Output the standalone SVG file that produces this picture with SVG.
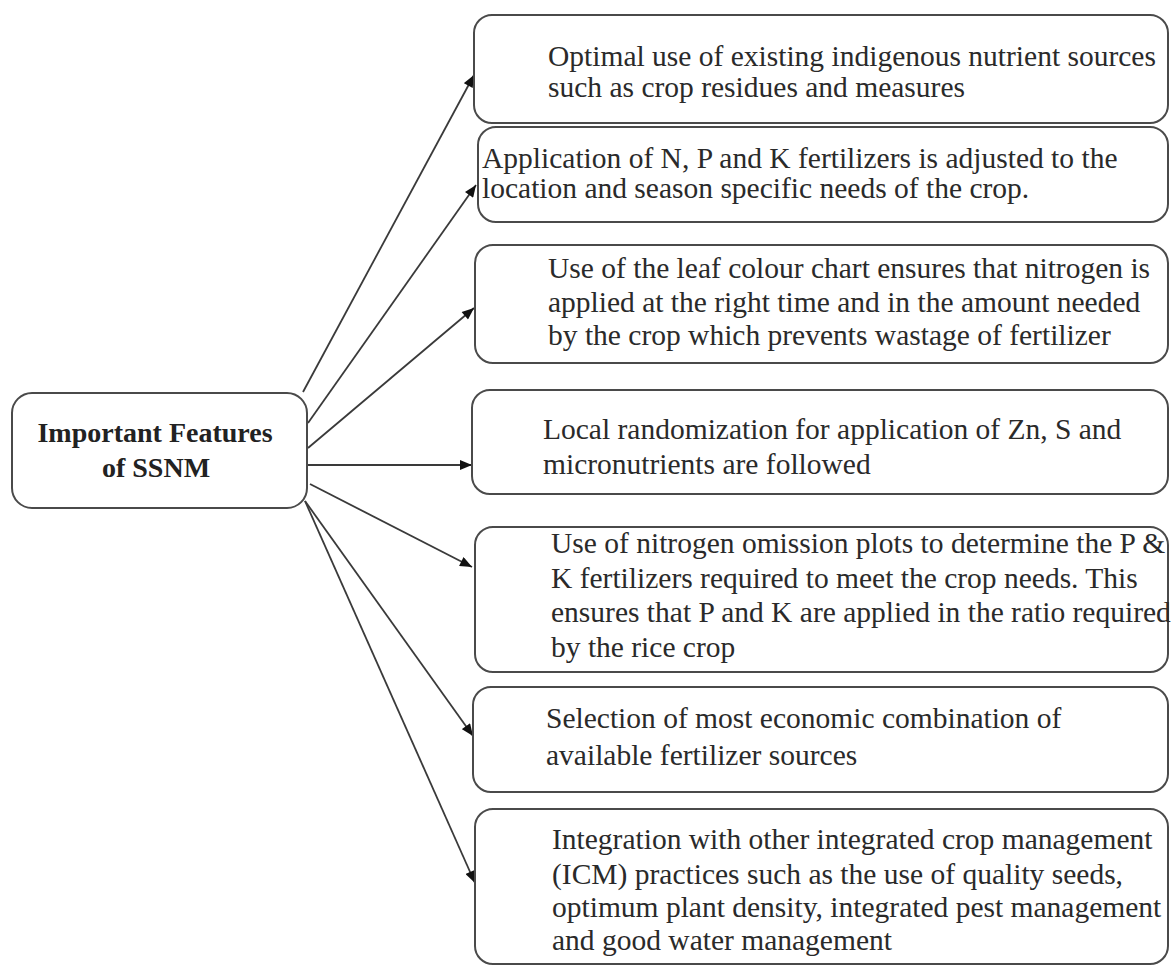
<svg xmlns="http://www.w3.org/2000/svg" width="1171" height="967" viewBox="0 0 1171 967">
<defs>
<style>
.box{fill:#ffffff;stroke:#4a4a4a;stroke-width:2}
.t{font-family:"Liberation Serif","Times New Roman",serif;font-size:29.5px;fill:#2a2a2a}
.h{font-family:"Liberation Serif","Times New Roman",serif;font-size:28px;font-weight:bold;fill:#222222;text-anchor:middle}
.c{stroke:#3a3a3a;stroke-width:1.8;fill:none;marker-end:url(#ah)}
</style>
<marker id="ah" viewBox="0 0 12 10" refX="12" refY="5" markerWidth="13" markerHeight="10" markerUnits="userSpaceOnUse" orient="auto">
<path d="M0,0 L12,5 L0,10 Z" fill="#111111"/>
</marker>
</defs>
<rect width="1171" height="967" fill="#ffffff"/>

<g id="connectors">
<line class="c" x1="303" y1="392" x2="474" y2="75"/>
<line class="c" x1="308" y1="423" x2="476" y2="185"/>
<line class="c" x1="308" y1="448" x2="474" y2="308"/>
<line class="c" x1="308" y1="465" x2="472" y2="465"/>
<line class="c" x1="310" y1="484" x2="472" y2="567"/>
<line class="c" x1="305" y1="501" x2="473" y2="736"/>
<line class="c" x1="305" y1="501" x2="475" y2="883"/>
</g>

<g id="root">
<rect class="box" x="12" y="393" width="295" height="115" rx="20"/>
<text class="h" x="155" y="442">Important Features</text>
<text class="h" x="156" y="477">of SSNM</text>
</g>

<g id="n1">
<rect class="box" x="474" y="15" width="694" height="108" rx="18"/>
<text class="t" x="548" y="66">Optimal use of existing indigenous nutrient sources</text>
<text class="t" x="548" y="97">such as crop residues and measures</text>
</g>

<g id="n2">
<rect class="box" x="478" y="127" width="690" height="95" rx="18"/>
<text class="t" x="482" y="168">Application of N, P and K fertilizers is adjusted to the</text>
<text class="t" x="482" y="198">location and season specific needs of the crop.</text>
</g>

<g id="n3">
<rect class="box" x="475" y="245" width="693" height="118" rx="18"/>
<text class="t" x="548" y="278">Use of the leaf colour chart ensures that nitrogen is</text>
<text class="t" x="548" y="312">applied at the right time and in the amount needed</text>
<text class="t" x="548" y="345">by the crop which prevents wastage of fertilizer</text>
</g>

<g id="n4">
<rect class="box" x="472" y="390" width="696" height="104" rx="18"/>
<text class="t" x="543" y="439">Local randomization for application of Zn, S and</text>
<text class="t" x="543" y="474">micronutrients are followed</text>
</g>

<g id="n5">
<rect class="box" x="475" y="527" width="693" height="145" rx="18"/>
<text class="t" x="551" y="553">Use of nitrogen omission plots to determine the P &amp;</text>
<text class="t" x="551" y="588">K fertilizers required to meet the crop needs. This</text>
<text class="t" x="551" y="622">ensures that P and K are applied in the ratio required</text>
<text class="t" x="551" y="657">by the rice crop</text>
</g>

<g id="n6">
<rect class="box" x="473" y="687" width="695" height="105" rx="18"/>
<text class="t" x="546" y="728">Selection of most economic combination of</text>
<text class="t" x="546" y="765">available fertilizer sources</text>
</g>

<g id="n7">
<rect class="box" x="475" y="809" width="693" height="155" rx="18"/>
<text class="t" x="552" y="849">Integration with other integrated crop management</text>
<text class="t" x="552" y="884">(ICM) practices such as the use of quality seeds,</text>
<text class="t" x="552" y="917">optimum plant density, integrated pest management</text>
<text class="t" x="552" y="950">and good water management</text>
</g>
</svg>
